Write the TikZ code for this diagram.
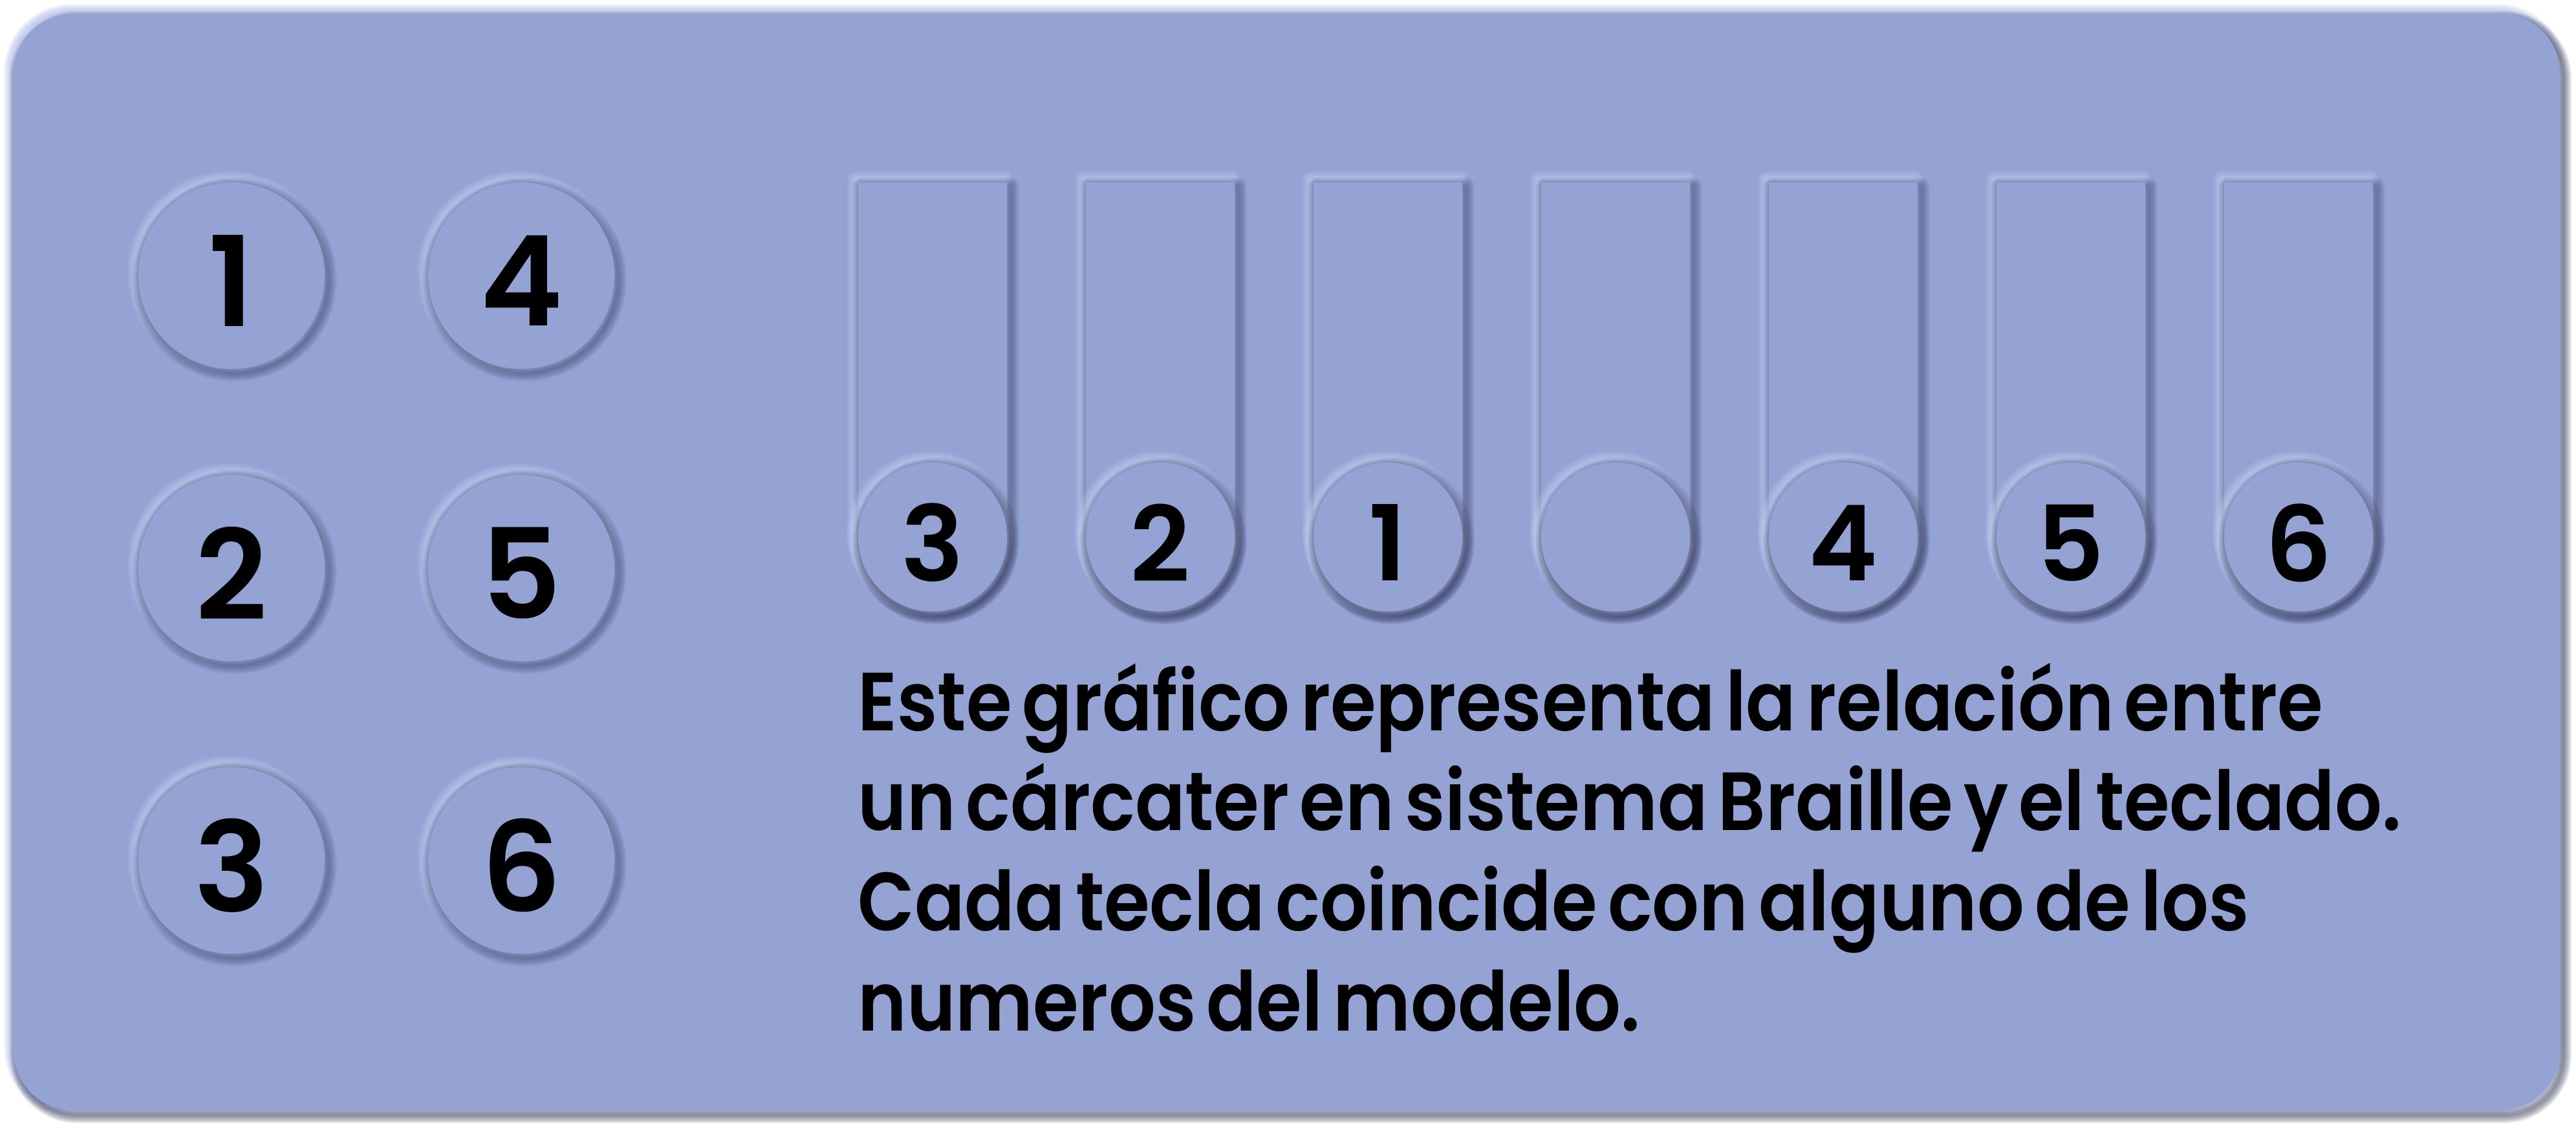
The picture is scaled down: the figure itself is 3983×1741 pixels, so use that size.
\documentclass[tikz,border=0pt]{standalone}
\usepackage{fontspec}
\setmainfont{Poppins}
\newfontfamily\txtfont{Poppins SemiBold}[FakeStretch=0.895, WordSpace=0.6]
\newfontfamily\digfont{Poppins SemiBold}
\definecolor{panel}{RGB}{148,162,212}
\definecolor{hilite}{RGB}{215,226,255}
\definecolor{shadec}{RGB}{55,62,100}
\definecolor{pshadow}{RGB}{70,74,100}
\definecolor{pglow}{RGB}{140,160,225}
\tikzset{
  digL/.style={inner sep=0, text=black, font=\digfont\fontsize{55}{60}\selectfont},
  digK/.style={inner sep=0, text=black, font=\digfont\fontsize{46}{50}\selectfont},
  txt/.style={anchor=base west, inner sep=0, text=black, font=\txtfont\fontsize{36.3}{44}\selectfont},
  dot/.style={circle, fill=panel, inner sep=0, draw=none},
}
% name, x, y, r, diameter
\newcommand\embcirc[5]{%
  \foreach \k in {1,...,8}{
    \draw[hilite, opacity=0.075, line width=\k*0.034cm] (#2-4,#3-5) circle (#4);
  }
  \foreach \k in {1,...,8}{
    \draw[shadec, opacity=0.075, line width=\k*0.034cm] (#2+5,#3+6) circle (#4);
  }
  \node[dot, minimum size=#5] (#1) at (#2,#3) {};
}
% key: x
\newcommand\keybody[1]{%
  \foreach \k in {1,...,8}{
    \draw[hilite, opacity=0.075, line width=\k*0.034cm, line join=round, xshift=-0.04cm, yshift=0.05cm]
      (#1,282) -- ++(230,0) -- ++(0,548) arc[start angle=0,end angle=180,radius=115] -- cycle;
  }
  \foreach \k in {1,...,8}{
    \draw[shadec, opacity=0.075, line width=\k*0.034cm, line join=round, xshift=0.05cm, yshift=-0.06cm]
      (#1,282) -- ++(230,0) -- ++(0,548) arc[start angle=0,end angle=180,radius=115] -- cycle;
  }
  \fill[panel] (#1,282) -- ++(230,0) -- ++(0,548) arc[start angle=0,end angle=180,radius=115] -- cycle;
}
\begin{document}
\begin{tikzpicture}[x=0.01cm,y=-0.01cm]
\useasboundingbox (0,0) rectangle (3983,1741);
\fill[white] (0,0) rectangle (3983,1741);
% panel glow and shadow
\foreach \k in {1,...,8}{
  \draw[pglow, opacity=0.08, line width=\k*0.03cm, rounded corners=0.92cm, xshift=-0.03cm, yshift=0.03cm] (21,21) rectangle (3958,1716);
}
\foreach \k in {1,...,8}{
  \draw[pshadow, opacity=0.1, line width=\k*0.03cm, rounded corners=0.92cm, xshift=0.06cm, yshift=-0.08cm] (21,21) rectangle (3958,1716);
}
\fill[panel, rounded corners=0.92cm] (21,21) rectangle (3958,1716);

% left braille cell
\embcirc{c1}{358}{426}{144}{2.88cm}
\embcirc{c2}{358}{878}{144}{2.88cm}
\embcirc{c3}{358}{1330}{144}{2.88cm}
\embcirc{c4}{806}{426}{144}{2.88cm}
\embcirc{c5}{806}{878}{144}{2.88cm}
\embcirc{c6}{806}{1330}{144}{2.88cm}
\node[digL] (l1) at ([yshift=-0.08cm]c1.center) {1};
\node[digL] (l2) at ([yshift=-0.08cm]c2.center) {2};
\node[digL] (l3) at ([yshift=-0.08cm]c3.center) {3};
\node[digL] (l4) at ([yshift=-0.08cm]c4.center) {4};
\node[digL] (l5) at ([yshift=-0.08cm]c5.center) {5};
\node[digL] (l6) at ([yshift=-0.08cm]c6.center) {6};

% keys
\keybody{1327}\embcirc{k1}{1442}{830}{115}{2.3cm}
\keybody{1679}\embcirc{k2}{1794}{830}{115}{2.3cm}
\keybody{2031}\embcirc{k3}{2146}{830}{115}{2.3cm}
\keybody{2383}\embcirc{k4}{2498}{830}{115}{2.3cm}
\keybody{2735}\embcirc{k5}{2850}{830}{115}{2.3cm}
\keybody{3087}\embcirc{k6}{3202}{830}{115}{2.3cm}
\keybody{3439}\embcirc{k7}{3554}{830}{115}{2.3cm}
\node[digK] (m1) at ([yshift=-0.09cm]k1.center) {3};
\node[digK] (m2) at ([yshift=-0.09cm]k2.center) {2};
\node[digK] (m3) at ([yshift=-0.09cm]k3.center) {1};
\node[digK] (m5) at ([yshift=-0.09cm]k5.center) {4};
\node[digK] (m6) at ([yshift=-0.09cm]k6.center) {5};
\node[digK] (m7) at ([yshift=-0.09cm]k7.center) {6};

% text
\node[txt] (t1) at (1326,1129) {Este gráfico representa la relación entre};
\node[txt] (t2) at (1326,1283) {un cárcater en sistema Braille y el teclado.};
\node[txt] (t3) at (1326,1438) {Cada tecla coincide con alguno de los};
\node[txt] (t4) at (1326,1593) {numeros del modelo.};
\end{tikzpicture}
\end{document}
